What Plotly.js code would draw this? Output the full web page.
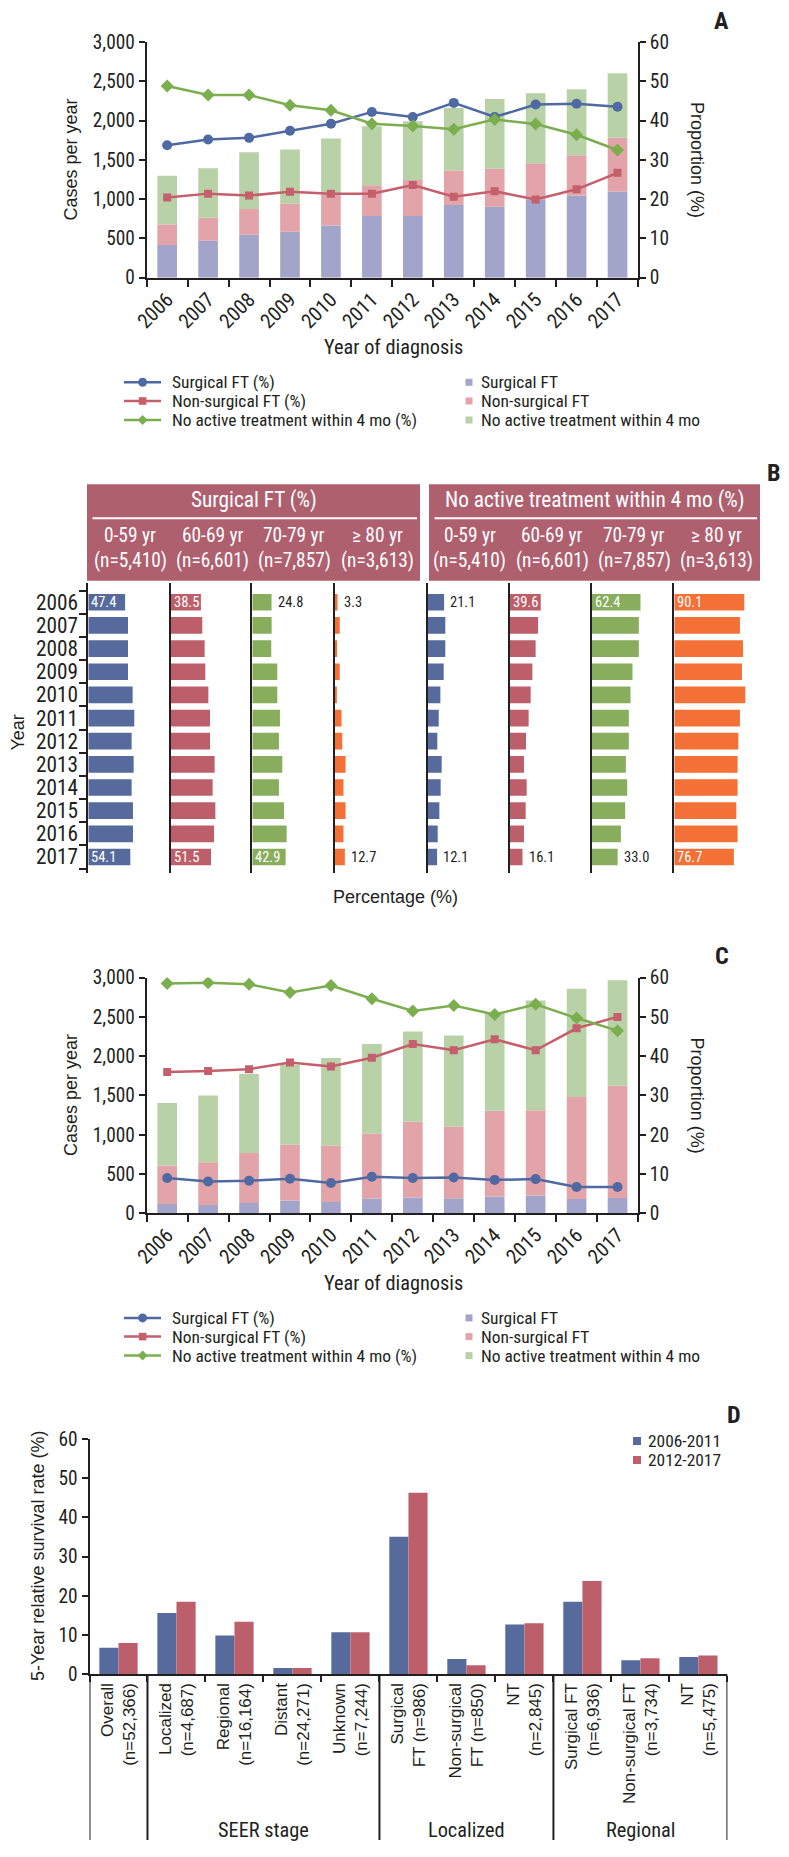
<!DOCTYPE html>
<html><head><meta charset="utf-8">
<script src="https://cdn.plot.ly/plotly-3.0.1.min.js"></script>
<style>html,body{margin:0;padding:0;background:#fff;}#chart{width:789px;height:1857px;}</style>
</head><body><div id="chart"></div>
<script>
// ---------------- DATA ----------------
const years = ['2006','2007','2008','2009','2010','2011','2012','2013','2014','2015','2016','2017'];

// Panel A (cases per year, stacked) and proportions (%)
const aSurgCases    = [415, 470, 547, 585, 665, 784, 784, 924, 903, 1000, 1042, 1097];
const aNonSurgCases = [263, 293, 326, 356, 400, 394, 458, 440, 483, 458, 517, 683];
const aNoneCases    = [619, 631, 724, 690, 706, 750, 750, 797, 889, 889, 839, 822];
const aSurgPct      = [33.7, 35.2, 35.6, 37.4, 39.2, 42.2, 40.9, 44.5, 40.9, 44.1, 44.3, 43.5];
const aNonSurgPct   = [20.4, 21.4, 20.9, 21.9, 21.4, 21.4, 23.6, 20.6, 22.0, 19.9, 22.5, 26.7];
const aNonePct      = [48.8, 46.5, 46.5, 43.9, 42.6, 39.2, 38.6, 37.8, 40.3, 39.1, 36.4, 32.5];

// Panel C
const cSurgCases    = [119, 106, 132, 162, 145, 187, 200, 191, 213, 226, 183, 196];
const cNonSurgCases = [489, 545, 634, 710, 715, 826, 966, 911, 1093, 1085, 1298, 1429];
const cNoneCases    = [796, 847, 1008, 1020, 1117, 1143, 1147, 1160, 1249, 1397, 1376, 1340];
const cSurgPct      = [9.0, 8.1, 8.3, 8.8, 7.7, 9.3, 9.0, 9.1, 8.5, 8.7, 6.7, 6.7];
const cNonSurgPct   = [36.0, 36.2, 36.7, 38.4, 37.4, 39.6, 43.1, 41.5, 44.3, 41.5, 47.1, 50.0];
const cNonePct      = [58.5, 58.7, 58.3, 56.2, 58.0, 54.6, 51.5, 52.9, 50.6, 53.2, 49.7, 46.5];

const lineNames = ['Surgical FT (%)', 'Non-surgical FT (%)', 'No active treatment within 4 mo (%)'];
const barNames  = ['Surgical FT', 'Non-surgical FT', 'No active treatment within 4 mo'];

// Panel B (% by age group)
const bGroupTitles = ['Surgical FT (%)', 'No active treatment within 4 mo (%)'];
const ageGroups = ['0-59 yr', '60-69 yr', '70-79 yr', '\u2265 80 yr'];
const ageN      = ['(n=5,410)', '(n=6,601)', '(n=7,857)', '(n=3,613)'];
const bSurg0059 = [47.4, 51.1, 51.1, 51.1, 57.1, 59.2, 55.8, 58.4, 55.8, 57.5, 57.5, 54.1];
const bSurg6069 = [38.5, 40.3, 43.3, 44.2, 48.1, 50.2, 50.2, 56.2, 53.6, 57.1, 55.4, 51.5];
const bSurg7079 = [24.8, 24.9, 24.4, 32.2, 32.2, 35.6, 34.3, 38.6, 34.3, 40.8, 44.2, 42.9];
const bSurg80   = [3.3, 6.1, 2.6, 6.1, 2.4, 8.4, 9.3, 13.6, 10.9, 13.6, 10.9, 12.7];
const bNone0059 = [21.1, 22.7, 22.7, 20.6, 16.3, 14.2, 12.4, 18.0, 16.7, 15.0, 12.9, 12.1];
const bNone6069 = [39.6, 36.1, 33.0, 28.8, 26.6, 24.0, 20.6, 18.0, 21.5, 20.2, 18.0, 16.1];
const bNone7079 = [62.4, 60.3, 60.3, 52.1, 49.6, 47.4, 47.4, 43.6, 45.3, 42.7, 37.2, 33.0];
const bNone80   = [90.1, 84.5, 88.4, 87.1, 91.4, 84.5, 82.4, 81.5, 81.5, 79.8, 81.5, 76.7];

// Panel D (5-year relative survival, %)
const dCats = ['Overall<br>(n=52,366)', 'Localized<br>(n=4,687)', 'Regional<br>(n=16,164)',
  'Distant<br>(n=24,271)', 'Unknown<br>(n=7,244)', 'Surgical<br>FT (n=986)',
  'Non-surgical<br>FT (n=850)', 'NT<br>(n=2,845)', 'Surgical FT<br>(n=6,936)',
  'Non-surgical FT<br>(n=3,734)', 'NT<br>(n=5,475)'];
const dPeriods = ['2006-2011', '2012-2017'];
const dEarly = [6.8, 15.6, 9.9, 1.6, 10.7, 35.1, 3.9, 12.7, 18.5, 3.6, 4.4];
const dLate  = [8.0, 18.5, 13.4, 1.6, 10.7, 46.3, 2.3, 13.0, 23.8, 4.1, 4.8];
const dGroups = ['SEER stage', 'Localized', 'Regional'];

// ---------------- FONT SELECTION (condensed look) ----------------
const SAMPLE = 'Year of diagnosis 2006 (n=5,410) No active treatment';
function measure(font, stretch) {
  const ctx = document.createElement('canvas').getContext('2d');
  ctx.font = font;
  if (stretch && 'fontStretch' in ctx) ctx.fontStretch = stretch;
  return ctx.measureText(SAMPLE).width;
}
function available(fam) {
  return measure('20px "' + fam + '", monospace') !== measure('20px monospace');
}
const target = measure('20px "Liberation Sans", Arial, sans-serif') * 0.82;
let FN = '"Liberation Sans", Arial, sans-serif', NS = 0.84, STRETCH = null;
if (available('Liberation Sans Narrow')) {
  FN = '"Liberation Sans Narrow", sans-serif'; NS = 1;
} else {
  const cands = ['Roboto', 'Open Sans', 'Noto Sans', 'Inter'];
  let done = false;
  for (const f of cands) {
    if (!available(f)) continue;
    const wn = measure('20px "' + f + '"');
    const wc = measure('20px "' + f + '"', 'condensed');
    if (wc < wn * 0.93) {
      FN = '"' + f + '", sans-serif'; STRETCH = f;
      NS = 1.05 * Math.max(0.85, Math.min(1.15, target / wc)); done = true; break;
    }
  }
  if (!done && available('DejaVu Sans Condensed')) {
    FN = '"DejaVu Sans Condensed", sans-serif';
    NS = target / measure('20px "DejaVu Sans Condensed"');
  }
}
if (STRETCH) {
  const st = document.createElement('style');
  st.textContent = 'text[style*="' + STRETCH + '"], tspan[style*="' + STRETCH + '"]{font-stretch:condensed;}';
  document.head.appendChild(st);
}

// ---------------- STYLE ----------------
const W = 789, H = 1857;
const fx = p => p / W;
const fy = p => 1 - p / H;
const FR = '"Liberation Sans", Arial, sans-serif';
const INK = '#231F20';
const fn = (s, c) => ({family: FN, size: s * NS, color: c || INK});
const fr = (s, c) => ({family: FR, size: s, color: c || INK});
const lineCols = ['#4F69A2', '#C45F6B', '#7BAE4F'];
const lineSyms = ['circle', 'square', 'diamond'];
const lineSize = [10, 8, 10];
const barCols  = ['#A2A5C9', '#E2A3A9', '#B8D1A7'];
const bCols = ['#566B9C', '#BD5F6B', '#87AD5D', '#F37036'];
const dCols = ['#566B9C', '#BD5F6B'];

const traces = [];
const layout = {
  width: W, height: H, margin: {l: 0, r: 0, t: 0, b: 0},
  paper_bgcolor: '#fff', plot_bgcolor: 'rgba(0,0,0,0)',
  showlegend: false, hovermode: false,
  barmode: 'group', bargap: 0.34, bargroupgap: 0,
  font: fn(20),
  shapes: [], annotations: []
};
function txt(t, xpx, ypx, o) {
  return Object.assign({text: t, xref: 'paper', yref: 'paper', x: fx(xpx), y: fy(ypx),
    showarrow: false, xanchor: 'center', yanchor: 'middle', font: fn(20)}, o || {});
}
const axBase = {showgrid: false, zeroline: false, showline: true, linecolor: INK, linewidth: 2,
  ticks: 'outside', tickcolor: INK, tickwidth: 2, tickfont: fn(20)};

// ---------------- PANELS A & C ----------------
function casePanel(dy, xa, ya, ya2, cases, pcts) {
  const xk = xa === 'x' ? 'xaxis' : 'xaxis' + xa.slice(1);
  const yk = 'yaxis' + ya.slice(1);
  const y2k = 'yaxis' + ya2.slice(1);
  const top = 42 + dy, bot = 277.7 + dy;
  layout[xk] = Object.assign({}, axBase, {domain: [fx(146.7), fx(638)], anchor: ya, type: 'category',
    range: [-0.5, 11.5], tickson: 'boundaries', ticklen: 7, tickangle: -45,
    tickmode: 'array', tickvals: years, ticktext: years, tickfont: fn(21)});
  layout[yk] = Object.assign({}, axBase, {domain: [fy(bot), fy(top)], anchor: xa, range: [0, 3000],
    dtick: 500, tickformat: ',d', ticklen: 6});
  layout[y2k] = Object.assign({}, axBase, {domain: [fy(bot), fy(top)], anchor: xa, overlaying: ya,
    side: 'right', range: [0, 60], dtick: 10, ticklen: 6});
  let base = years.map(() => 0);
  cases.forEach((v, i) => {
    traces.push({type: 'bar', x: years, y: v, base: base.slice(), name: barNames[i],
      xaxis: xa, yaxis: ya, width: 0.48, offsetgroup: 'g' + xa,
      marker: {color: barCols[i], line: {width: 0}}});
    base = base.map((b, k) => b + v[k]);
  });
  pcts.forEach((v, i) => {
    traces.push({type: 'scatter', mode: 'lines+markers', x: years, y: v, name: lineNames[i],
      xaxis: xa, yaxis: ya2, line: {color: lineCols[i], width: 2.5},
      marker: {symbol: lineSyms[i], size: lineSize[i], color: lineCols[i]}});
  });
  layout.annotations.push(txt('Cases per year', 70.5, 160 + dy, {textangle: -90, font: fr(18)}));
  layout.annotations.push(txt('Proportion (%)', 697, 160 + dy, {textangle: 90, font: fr(18)}));
  layout.annotations.push(txt('Year of diagnosis', 393, 347 + dy, {font: fn(21)}));
  const rows = [382.3, 401, 420];
  rows.forEach((r, i) => {
    const y = r + dy;
    layout.shapes.push({type: 'line', xref: 'paper', yref: 'paper', x0: fx(124), x1: fx(161),
      y0: fy(y), y1: fy(y), line: {color: lineCols[i], width: 2.5}});
    const c = 142.6;
    if (i === 0) {
      layout.shapes.push({type: 'circle', xref: 'paper', yref: 'paper', x0: fx(c - 4.5), x1: fx(c + 4.5),
        y0: fy(y + 4.5), y1: fy(y - 4.5), fillcolor: lineCols[i], line: {width: 0}});
    } else if (i === 1) {
      layout.shapes.push({type: 'rect', xref: 'paper', yref: 'paper', x0: fx(c - 3.8), x1: fx(c + 3.8),
        y0: fy(y + 3.8), y1: fy(y - 3.8), fillcolor: lineCols[i], line: {width: 0}});
    } else {
      const p = `M${fx(c - 5)},${fy(y)} L${fx(c)},${fy(y - 5)} L${fx(c + 5)},${fy(y)} L${fx(c)},${fy(y + 5)} Z`;
      layout.shapes.push({type: 'path', xref: 'paper', yref: 'paper', path: p, fillcolor: lineCols[i], line: {width: 0}});
    }
    layout.annotations.push(txt(lineNames[i], 170, y, {xanchor: 'left', font: fn(18)}));
    layout.shapes.push({type: 'rect', xref: 'paper', yref: 'paper', x0: fx(465.5), x1: fx(472.5),
      y0: fy(y + 3.5), y1: fy(y - 3.5), fillcolor: barCols[i], line: {width: 0}});
    layout.annotations.push(txt(barNames[i], 479, y, {xanchor: 'left', font: fn(18)}));
  });
}
casePanel(0, 'x', 'y', 'y2', [aSurgCases, aNonSurgCases, aNoneCases], [aSurgPct, aNonSurgPct, aNonePct]);
casePanel(935.6, 'x2', 'y3', 'y4', [cSurgCases, cNonSurgCases, cNoneCases], [cSurgPct, cNonSurgPct, cNonePct]);
layout.annotations.push(txt('<b>A</b>', 721, 21, {font: fn(25)}));
layout.annotations.push(txt('<b>C</b>', 722, 956, {font: fn(25)}));

// ---------------- PANEL B ----------------
const bSeries = [bSurg0059, bSurg6069, bSurg7079, bSurg80, bNone0059, bNone6069, bNone7079, bNone80];
const bAxisX = [88.3, 171, 252.3, 335, 427.7, 510, 592, 674.3];
const bScale = 77.67; // px for 100 %
bSeries.forEach((vals, i) => {
  const xn = 'x' + (4 + i), yn = 'y' + (6 + i);
  layout['xaxis' + (4 + i)] = {domain: [fx(bAxisX[i]), fx(bAxisX[i] + bScale)], range: [0, 100],
    anchor: yn, visible: false, fixedrange: true};
  const ya = Object.assign({}, axBase, {domain: [fy(873), fy(583)], anchor: xn, type: 'category',
    range: [11.69, -0.83], showticklabels: i === 0, ticks: i === 0 ? 'outside' : '', ticklen: 7,
    tickmode: 'array', tickvals: years, ticktext: years, tickfont: fn(22), ticklabelstandoff: 4});
  if (i === 0) ya.tickson = 'boundaries';
  layout['yaxis' + (6 + i)] = ya;
  traces.push({type: 'bar', orientation: 'h', x: vals, y: years, xaxis: xn, yaxis: yn, width: 0.72,
    marker: {color: bCols[i % 4], line: {width: 0}}});
  [0, years.length - 1].forEach(k => {
    const v = vals[k];
    const inside = v >= 35;
    layout.annotations.push({xref: xn, yref: yn, x: inside ? 0 : v, y: k, text: v.toFixed(1),
      showarrow: false, xanchor: 'left', yanchor: 'middle', xshift: inside ? 1 : 4,
      font: fn(15, inside ? '#fff' : INK)});
  });
});
const boxes = [[87, 420], [429, 760]];
boxes.forEach((b, g) => {
  layout.shapes.push({type: 'rect', xref: 'paper', yref: 'paper', x0: fx(b[0]), x1: fx(b[1]),
    y0: fy(580.7), y1: fy(484.3), fillcolor: '#AF606F', line: {width: 0}, layer: 'below'});
  layout.shapes.push({type: 'line', xref: 'paper', yref: 'paper', x0: fx(b[0] + 5.5), x1: fx(b[1] - 3),
    y0: fy(518.3), y1: fy(518.3), line: {color: '#fff', width: 2}});
  layout.annotations.push(txt(bGroupTitles[g], (b[0] + b[1]) / 2, 500, {font: fn(22, '#fff')}));
  ageGroups.forEach((a, k) => {
    const cx = bAxisX[g * 4 + k] + 42;
    layout.annotations.push(txt(a, cx, 535, {font: fn(20, '#fff')}));
    layout.annotations.push(txt(ageN[k], cx, 560.5, {font: fn(20, '#fff')}));
  });
});
layout.annotations.push(txt('Year', 17.5, 733, {textangle: -90, font: fr(18)}));
layout.annotations.push(txt('Percentage (%)', 395, 897, {font: fr(18)}));
layout.annotations.push(txt('<b>B</b>', 774, 473, {font: fn(25)}));

// ---------------- PANEL D ----------------
layout.xaxis3 = Object.assign({}, axBase, {domain: [fx(89.5), fx(727.4)], anchor: 'y5', type: 'category',
  range: [-0.5, 10.5], tickson: 'boundaries', ticklen: 6, tickangle: -90,
  tickmode: 'array', tickvals: dCats, ticktext: dCats, tickfont: fr(17)});
layout.yaxis5 = Object.assign({}, axBase, {domain: [fy(1674.3), fy(1439)], anchor: 'x3', range: [0, 60],
  dtick: 10, ticklen: 6});
[dEarly, dLate].forEach((v, i) => {
  traces.push({type: 'bar', x: dCats, y: v, name: dPeriods[i], xaxis: 'x3', yaxis: 'y5',
    marker: {color: dCols[i], line: {width: 0}}});
});
[-0.5, 0.5, 4.5, 7.5, 10.5].forEach(b => {
  layout.shapes.push({type: 'line', xref: 'x3', yref: 'paper', x0: b, x1: b, y0: fy(1674.3), y1: fy(1840),
    line: {color: INK, width: 2}});
});
[[2.5, 0], [6, 1], [9, 2]].forEach(([c, g]) => {
  layout.annotations.push({xref: 'x3', yref: 'paper', x: c, y: fy(1830), text: dGroups[g], showarrow: false,
    xanchor: 'center', yanchor: 'middle', font: fn(21)});
});
layout.annotations.push(txt('5-Year relative survival rate (%)', 38, 1556, {textangle: -90, font: fr(18)}));
dPeriods.forEach((p, i) => {
  const y = 1441 + i * 19;
  layout.shapes.push({type: 'rect', xref: 'paper', yref: 'paper', x0: fx(633), x1: fx(641),
    y0: fy(y + 4), y1: fy(y - 4), fillcolor: dCols[i], line: {width: 0}});
  layout.annotations.push(txt(p, 646, y, {xanchor: 'left', font: fn(18)}));
});
layout.annotations.push(txt('<b>D</b>', 734, 1415, {font: fn(25)}));

Plotly.newPlot('chart', traces, layout, {staticPlot: true, displayModeBar: false});
</script>
</body></html>
